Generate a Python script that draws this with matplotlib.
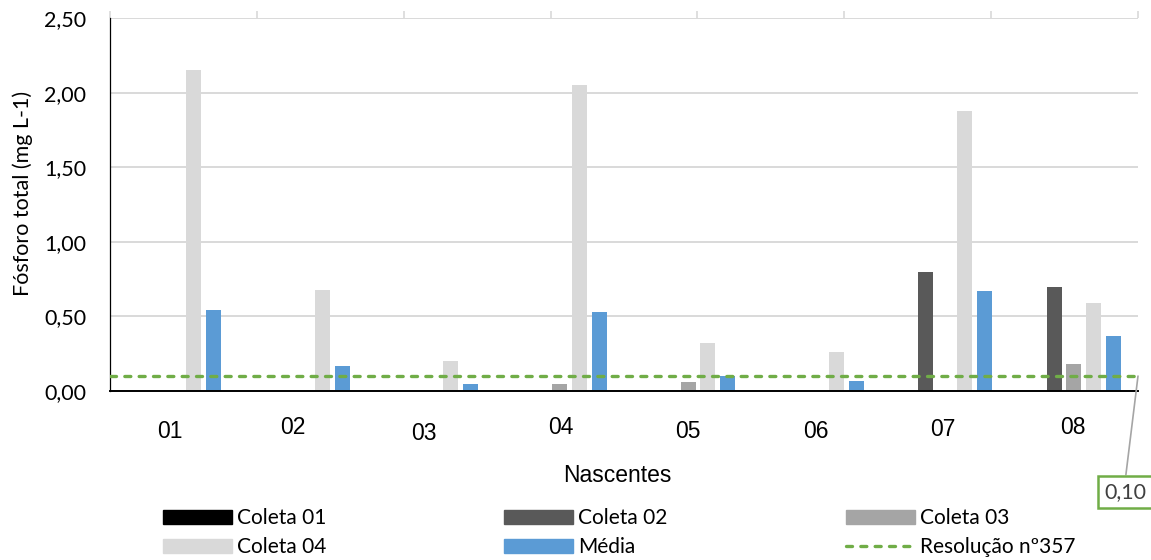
import matplotlib
matplotlib.use("Agg")
import matplotlib.pyplot as plt
from matplotlib.lines import Line2D
from matplotlib.patches import Patch

# Total phosphorus per spring, four sampling campaigns plus their mean
nascentes = ["01", "02", "03", "04", "05", "06", "07", "08"]
coleta_01 = [0.00, 0.00, 0.00, 0.00, 0.00, 0.00, 0.00, 0.00]
coleta_02 = [0.00, 0.00, 0.00, 0.00, 0.00, 0.00, 0.80, 0.70]
coleta_03 = [0.00, 0.00, 0.00, 0.05, 0.06, 0.00, 0.00, 0.18]
coleta_04 = [2.15, 0.68, 0.20, 2.05, 0.32, 0.26, 1.88, 0.59]
media = [0.54, 0.17, 0.05, 0.53, 0.10, 0.07, 0.67, 0.37]
limite = 0.10  # CONAMA Resolução nº357 limit
yticks = [0.0, 0.5, 1.0, 1.5, 2.0, 2.5]

series = [
    ("Coleta 01", coleta_01, "#000000"),
    ("Coleta 02", coleta_02, "#595959"),
    ("Coleta 03", coleta_03, "#A5A5A5"),
    ("Coleta 04", coleta_04, "#D9D9D9"),
    ("Média", media, "#5B9BD5"),
]
green = "#70AD47"
dash = (0, (1.8, 2.5))

# the category labels sit a bit irregularly below the axis (dx, dy in px)
label_nudge = [(-4, 41), (-10, 37), (-7, 42), (1, 37), (0, 41), (-1, 40), (-2, 39), (-1, 36)]

fig = plt.figure(figsize=(11.51, 5.60), dpi=100)
ax = fig.add_axes([110 / 1151, 1 - 391 / 560, 1028 / 1151, 373 / 560])

slot = 0.153
width = 0.117
x = list(range(len(nascentes)))
for j, (name, vals, col) in enumerate(series):
    ax.bar([i + (j - 2) * slot for i in x], vals, width=width, color=col,
           label=name, zorder=2)

ax.axhline(limite, color=green, lw=2.4, ls=dash,
           dash_capstyle="round", zorder=3)

ax.set_xlim(-0.5, 7.5)
ax.set_ylim(0, 2.5)
ax.set_yticks(yticks)
ax.set_yticklabels([f"{v:.2f}".replace(".", ",") for v in yticks],
                   fontfamily="Lato", fontsize=15.5)
ax.tick_params(axis="y", length=0, pad=17)
ax.set_xticks([])
ax.grid(axis="y", color="#D9D9D9", lw=1.4, zorder=0)

for s in ["top", "right"]:
    ax.spines[s].set_visible(False)
ax.spines["left"].set_color("#000000")
ax.spines["left"].set_linewidth(0.9)
ax.spines["bottom"].set_color("#000000")
ax.spines["bottom"].set_linewidth(1.4)
ax.spines["bottom"].set_zorder(4)

# light tick marks along the top edge
top = ax.secondary_xaxis("top")
top.set_xticks([-0.5 + k * 8 / 7 for k in range(8)])
top.set_xticklabels([])
top.tick_params(length=5, width=1.2, color="#D9D9D9")
top.spines["top"].set_visible(False)

for i, (lbl, (dx, dy)) in enumerate(zip(nascentes, label_nudge)):
    ax.annotate(lbl, xy=(i, 0), xycoords=("data", "axes fraction"),
                xytext=(dx, -dy), textcoords="offset pixels",
                ha="center", va="center", fontfamily="Liberation Sans",
                fontsize=16.5, color="#000000")

fig.text(617 / 1151, 1 - 475 / 560, "Nascentes", ha="center", va="center",
         fontfamily="Liberation Sans", fontsize=16.5)
ax.set_ylabel("Fósforo total (mg L-1)", fontfamily="Lato", fontsize=15.5)
ax.yaxis.set_label_coords(-0.075, 0.53)

# callout with the limit value
ax.annotate(f"{limite:.2f}".replace(".", ","), xy=(7.5, limite),
            xycoords="data", xytext=(1104 / 1151, 1 - 492 / 560),
            textcoords="figure fraction", ha="left", va="center",
            fontfamily="Lato", fontsize=15.5, color="#404040",
            bbox=dict(boxstyle="square,pad=0.3", fc="white", ec=green, lw=1.8),
            arrowprops=dict(arrowstyle="-", color="#A5A5A5", lw=1.2,
                            shrinkA=0, shrinkB=0,
                            relpos=(0.5, 1.0)),
            annotation_clip=False, zorder=5)

handles = [Patch(color=c) for _, _, c in series]
handles.append(Line2D([0], [0], color=green, lw=2.4, ls=dash,
                      dash_capstyle="round"))
labels = [n for n, _, _ in series] + ["Resolução nº357"]
order = [0, 3, 1, 4, 2, 5]
fig.legend([handles[k] for k in order], [labels[k] for k in order],
           loc="upper left", bbox_to_anchor=(163 / 1151, 1 - 508 / 560),
           ncol=3, frameon=False, borderpad=0, borderaxespad=0,
           handlelength=3.3, handleheight=0.68, handletextpad=0.25,
           columnspacing=8.55, labelspacing=0.45,
           prop={"family": "Lato", "size": 15})

fig.savefig("out.png", dpi=100)
